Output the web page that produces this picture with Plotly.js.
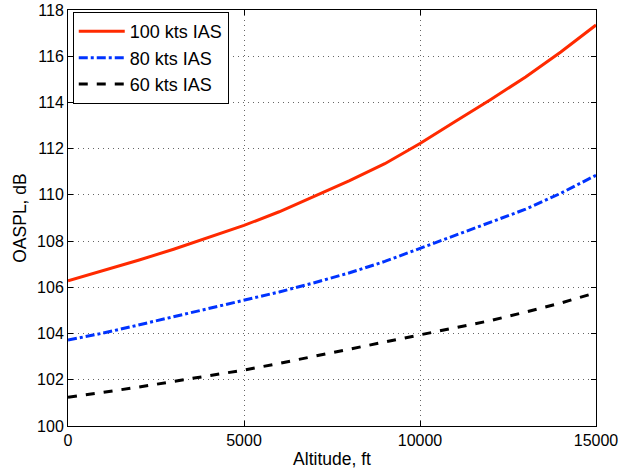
<!DOCTYPE html>
<html><head><meta charset="utf-8">
<script src="https://cdn.plot.ly/plotly-3.0.1.min.js"></script>
<style>html,body{margin:0;padding:0;background:#fff}#chart{width:626px;height:472px}</style>
</head><body><div id="chart"></div>
<script>
const altitude = [0,1000,2000,3000,4000,5000,6000,7000,8000,9000,10000,11000,12000,13000,14000,15000];
const ias100 = [106.28,106.72,107.17,107.65,108.15,108.68,109.27,109.93,110.62,111.35,112.22,113.18,114.12,115.1,116.18,117.35];
const ias80 = [103.72,104.02,104.37,104.73,105.1,105.45,105.8,106.2,106.63,107.12,107.69,108.25,108.8,109.38,110.07,110.85];
const ias60 = [101.24,101.45,101.68,101.93,102.16,102.42,102.71,103.02,103.32,103.62,103.93,104.23,104.56,104.93,105.32,105.77];
const names = ['100 kts IAS','80 kts IAS','60 kts IAS'];

const FONT = 'Liberation Sans, Arial, Helvetica, sans-serif';
const traces = [
  {x: altitude, y: ias100, name: names[0], mode:'lines', line:{color:'#ff2a00', width:3, dash:'solid'}},
  {x: altitude, y: ias80, name: names[1], mode:'lines', line:{color:'#0033ff', width:3, dash:'dashdot'}},
  {x: altitude, y: ias60, name: names[2], mode:'lines', line:{color:'#000000', width:3, dash:'dash'}}
];
const axisCommon = {
  showline:true, linecolor:'#000', linewidth:1, mirror:'ticks',
  ticks:'inside', ticklen:5, tickcolor:'#000',
  showgrid:true, gridcolor:'#666', griddash:'1px,4px', gridwidth:1,
  zeroline:false, tickfont:{family:FONT, size:16, color:'#000'}
};
const layout = {
  width:626, height:472,
  margin:{l:68, r:30, t:10, b:46},
  paper_bgcolor:'#fff', plot_bgcolor:'#fff',
  font:{family:FONT, color:'#000'},
  xaxis: Object.assign({}, axisCommon, {range:[0,15000], dtick:5000, tickformat:'d',
    title:{text:'Altitude, ft', font:{size:17.5}, standoff:4}}),
  yaxis: Object.assign({}, axisCommon, {range:[100,118], dtick:2,
    title:{text:'OASPL, dB', font:{size:17.5}, standoff:5}}),
  showlegend:true,
  legend:{x:0.009, y:0.995, xanchor:'left', yanchor:'top', bgcolor:'#fff', bordercolor:'#000', borderwidth:1,
    font:{size:18, family:FONT}, tracegroupgap:0, itemwidth:46}
};
Plotly.newPlot('chart', traces, layout, {displayModeBar:false, staticPlot:true});
</script></body></html>
